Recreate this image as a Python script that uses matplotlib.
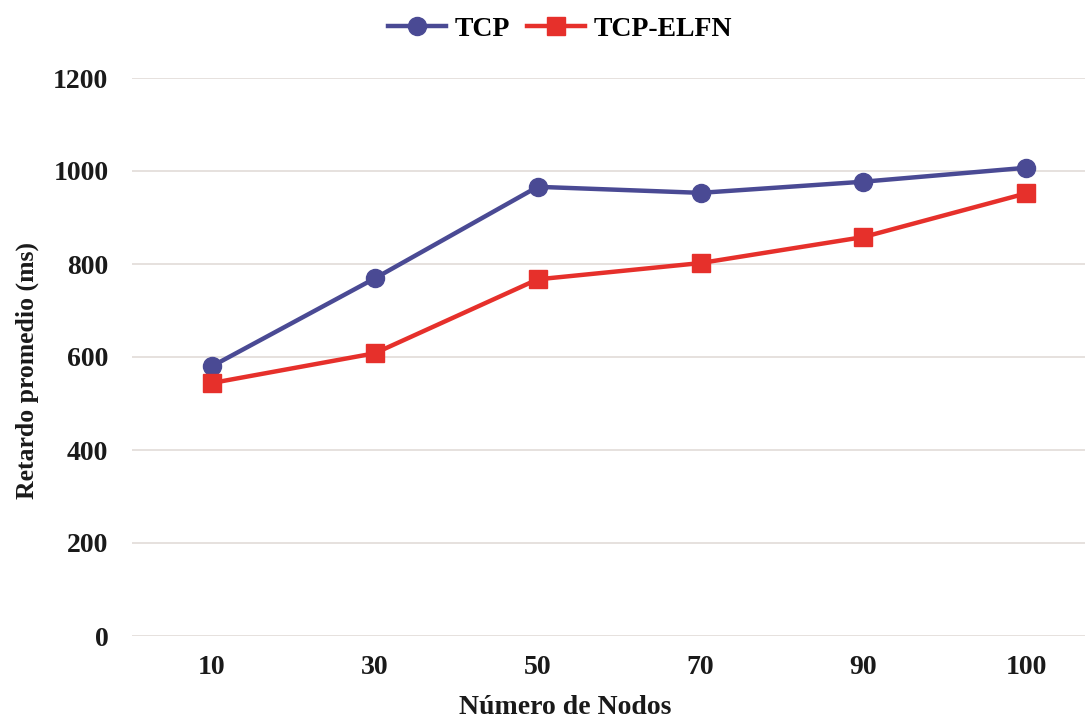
import matplotlib
matplotlib.use("Agg")
import matplotlib.pyplot as plt

categories = ["10", "30", "50", "70", "90", "100"]
tcp = [580, 769, 966, 953, 977, 1007]
tcp_elfn = [544, 608, 767, 802, 858, 952]
yticks = [0, 200, 400, 600, 800, 1000, 1200]

plt.rcParams['font.family'] = ['Liberation Serif', 'DejaVu Serif']
plt.rcParams['font.weight'] = 'bold'

fig = plt.figure(figsize=(10.85, 7.23), dpi=100)
ax = fig.add_axes([132/1085, (723-636)/723, 1 - 132/1085, (636-78)/723])

x = list(range(len(categories)))
ax.plot(x, tcp, color='#4a4a94', lw=3.2, marker='o', ms=13, label='TCP', zorder=3)
ax.plot(x, tcp_elfn, color='#e6302b', lw=3.2, marker='s', ms=13, label='TCP-ELFN', zorder=3)

ax.set_xlim(-0.49, 5.36)
ax.set_ylim(0, 1200)
ax.set_yticks(yticks)
ax.set_xticks(x)
ax.set_xticklabels(categories)
ax.grid(axis='y', color='#e2dcd8', lw=1.2)
ax.set_axisbelow(True)
for s in ax.spines.values():
    s.set_visible(False)
ax.tick_params(axis='both', length=0, labelsize=20, colors='#1a1a1a')
ax.tick_params(axis='y', pad=17)
ax.tick_params(axis='x', pad=14)

fig.text(565/1085, 3/723, 'Número de Nodos', fontsize=20, fontweight='bold',
         color='#1a1a1a', ha='center', va='bottom')
ax.set_ylabel('Retardo promedio (ms)', fontsize=18.5, fontweight='bold', color='#1a1a1a')
ax.yaxis.set_label_coords(-0.098, 0.475)

leg = fig.legend(loc='upper center', bbox_to_anchor=(0.516, 1.012), ncol=2, frameon=False,
                 fontsize=20, handlelength=2.1, columnspacing=0.6, handletextpad=0.3)
for t in leg.get_texts():
    t.set_fontweight('bold')

fig.savefig('out.png', dpi=100)
